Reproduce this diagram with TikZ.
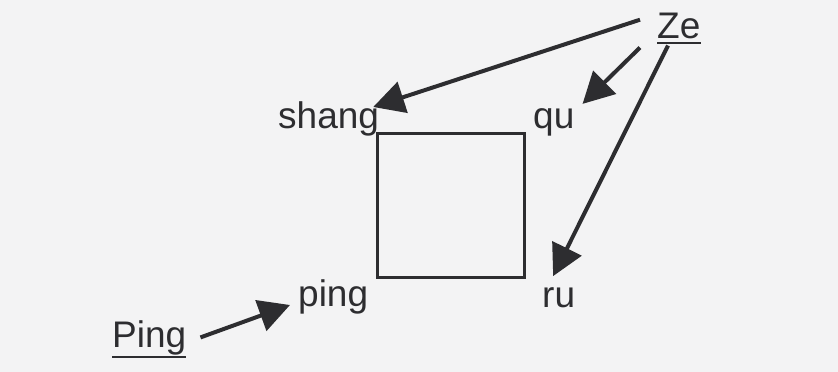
\documentclass[tikz,border=0pt]{standalone}
\usepackage{fontspec}
\setmainfont{Liberation Sans}
\usetikzlibrary{arrows.meta}
\definecolor{paper}{RGB}{243,243,244}
\definecolor{ink}{RGB}{45,45,48}
\tikzset{
  lbl/.style={inner sep=0pt, anchor=base west, text=ink, font=\fontsize{37}{42}\selectfont},
  arr/.style={draw=ink, line width=4pt, -{Triangle[length=31pt,width=32pt]}},
  uline/.style={draw=ink, line width=2.5pt},
  sqbox/.style={draw=ink, line width=3pt, inner sep=0pt, minimum width=147pt, minimum height=144pt}
}
\begin{document}
\begin{tikzpicture}[x=1pt,y=-1pt]
\fill[paper] (0,0) rectangle (838,372);
\useasboundingbox (0,0) rectangle (838,372);
\node[sqbox] (sq) at (450.5,205) {};
\node[lbl] (shang) at (278,128) {shang};
\node[lbl] (qu) at (533,128) {qu};
\node[lbl] (ping) at (298,306) {ping};
\node[lbl] (ru) at (542,307) {ru};
\node[lbl] (Ping) at (112,347) {Ping};
\node[lbl] (Ze) at (657,38) {Ze};
\draw[uline] ([yshift=-5pt]Ze.base west) -- ([yshift=-5pt]Ze.base east);
\draw[uline] ([yshift=-10pt]Ping.base west) -- ([yshift=-10pt]Ping.base east);
\draw[arr] ([xshift=-17pt,yshift=5.75pt]Ze.west) -- ([xshift=-6pt,yshift=-6pt]shang.north east);
\draw[arr] ([xshift=-17pt,yshift=-9pt]Ze.south west) -- ([xshift=8pt,yshift=4pt]qu.north east);
\draw[arr] ([xshift=11pt,yshift=-7pt]Ze.south west) -- ([xshift=-5.5pt,yshift=10.8pt]ru.north);
\draw[arr] ([xshift=14pt]Ping.east) -- ([xshift=-8pt,yshift=1pt]ping.base west);
\end{tikzpicture}
\end{document}
